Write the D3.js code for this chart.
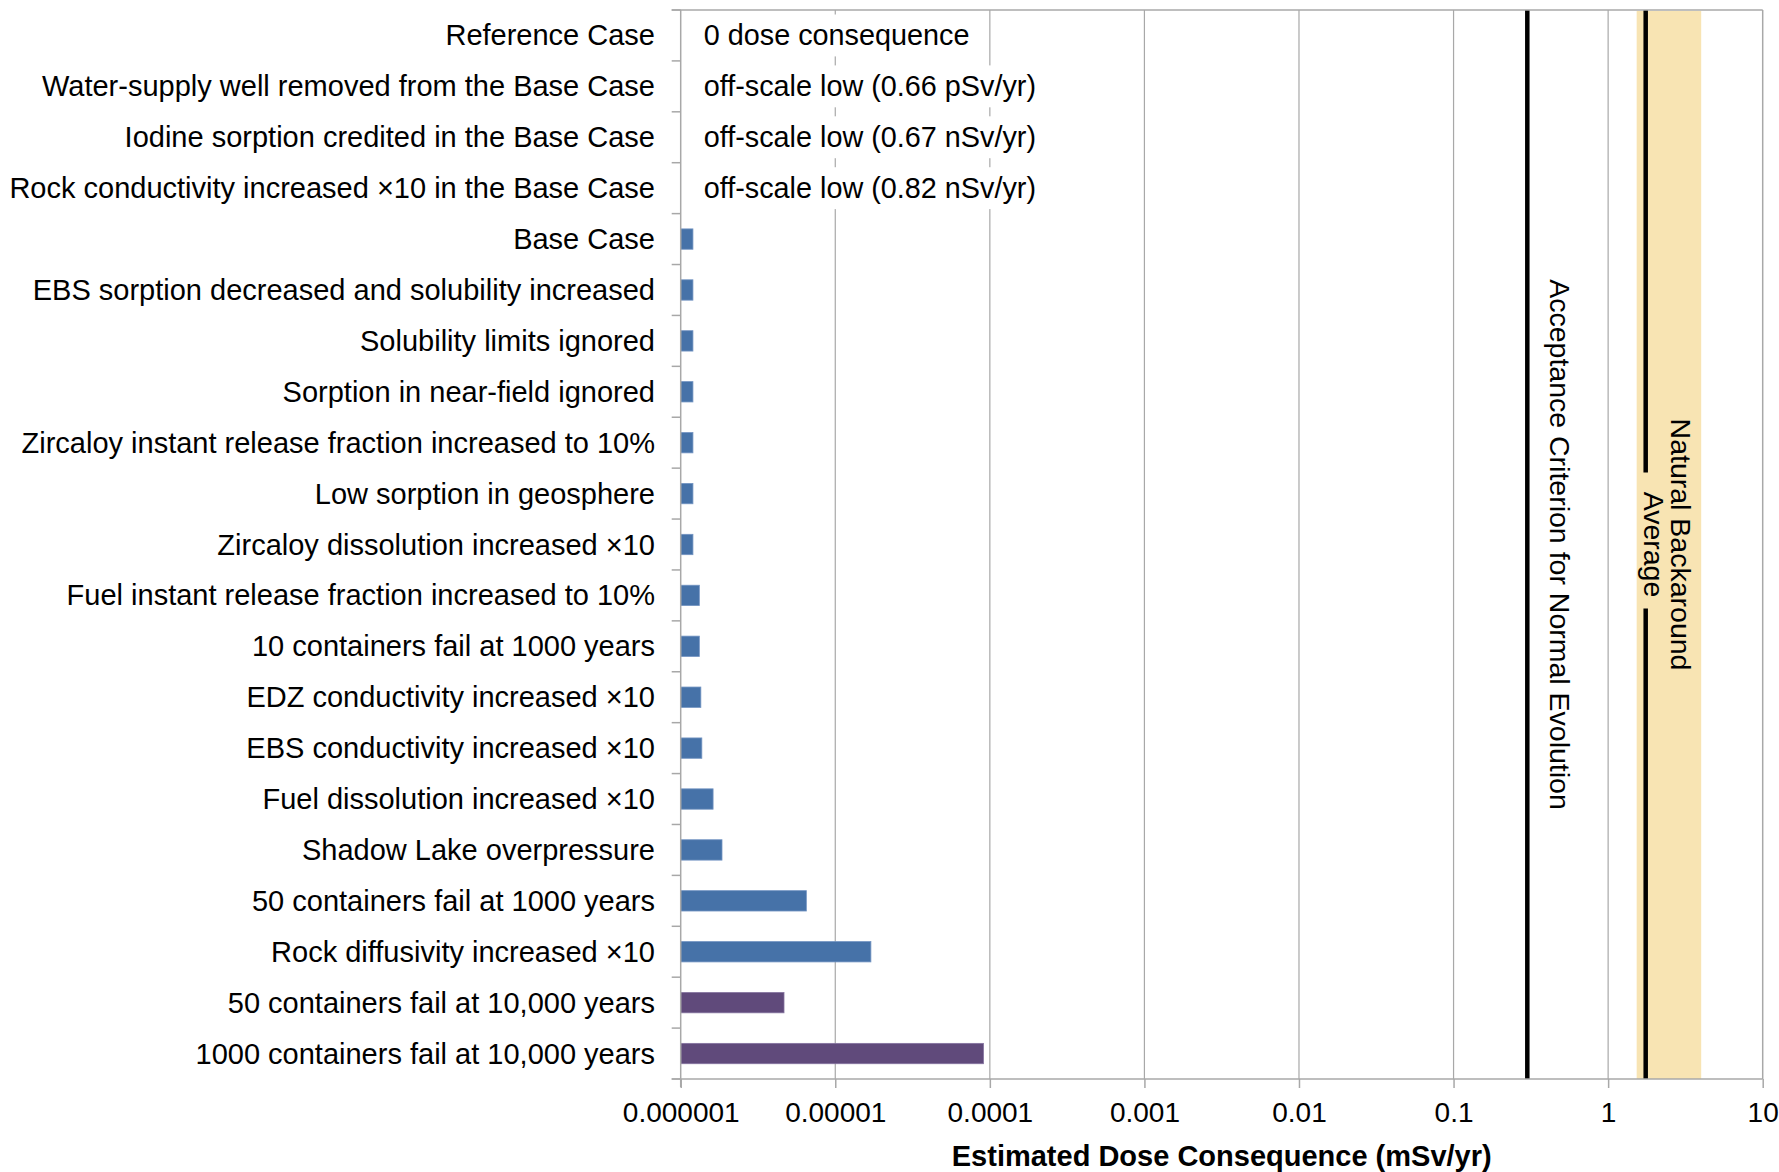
<!DOCTYPE html>
<html><head><meta charset="utf-8">
<script src="https://cdn.jsdelivr.net/npm/d3@7"></script>
<style>
body{margin:0;background:#fff}
svg{display:block}
text{font-family:"Liberation Sans",Arial,sans-serif;fill:#000}
</style>
</head><body>
<svg id="chart" width="1779" height="1172"></svg>
<script>
// ---------------- data ----------------
const categories = [
  "Reference Case",
  "Water-supply well removed from the Base Case",
  "Iodine sorption credited in the Base Case",
  "Rock conductivity increased \u00d710 in the Base Case",
  "Base Case",
  "EBS sorption decreased and solubility increased",
  "Solubility limits ignored",
  "Sorption in near-field ignored",
  "Zircaloy instant release fraction increased to 10%",
  "Low sorption in geosphere",
  "Zircaloy dissolution increased \u00d710",
  "Fuel instant release fraction increased to 10%",
  "10 containers fail at 1000 years",
  "EDZ conductivity increased \u00d710",
  "EBS conductivity increased \u00d710",
  "Fuel dissolution increased \u00d710",
  "Shadow Lake overpressure",
  "50 containers fail at 1000 years",
  "Rock diffusivity increased \u00d710",
  "50 containers fail at 10,000 years",
  "1000 containers fail at 10,000 years"
];
// estimated dose consequence, mSv/yr
const doseValues = [
  0, 6.6e-10, 6.7e-7, 8.2e-7,
  1.2e-6, 1.2e-6, 1.2e-6, 1.2e-6, 1.2e-6, 1.2e-6, 1.2e-6,
  1.32e-6, 1.32e-6, 1.35e-6, 1.37e-6, 1.62e-6, 1.85e-6,
  6.5e-6, 1.7e-5, 4.66e-6, 9.1e-5
];
// series index per category (0 = sensitivity cases, 1 = container failure at 10,000 years)
const seriesIndex = [0,0,0,0,0,0,0,0,0,0,0,0,0,0,0,0,0,0,0,1,1];
const seriesColors = ["#4672a8", "#604a7b"];
const seriesStroke = ["#7394c2", "#8574a0"];
// text notes for off-scale rows
const noteTexts = [
  "0 dose consequence",
  "off-scale low (0.66 pSv/yr)",
  "off-scale low (0.67 nSv/yr)",
  "off-scale low (0.82 nSv/yr)"
];
const tickValues = [1e-6, 1e-5, 1e-4, 1e-3, 1e-2, 1e-1, 1, 10];
const tickLabels = ["0.000001", "0.00001", "0.0001", "0.001", "0.01", "0.1", "1", "10"];
const acceptanceCriterion = 0.3;
const naturalBackgroundAverage = 1.75;
const naturalBackgroundRange = [1.53, 4.0];
const xTitle = "Estimated Dose Consequence (mSv/yr)";
const acceptanceLabel = "Acceptance Criterion for Normal Evolution";
const backgroundLabel = ["Natural Backaround", "Average"];

// ---------------- layout ----------------
const L = 680.7, R = 1762.7, T = 10, B = 1079;
const svg = d3.select("#chart");
const x = d3.scaleLog().domain([1e-6, 10]).range([L, R]);
const y = d3.scaleBand().domain(categories).range([T, B]).padding(0);
const step = y.step();
const barH = step * 0.4;
const gridColor = "#a8a8a8";

// gridlines
svg.append("g").selectAll("line").data(tickValues.slice(1, -1)).join("line")
  .attr("x1", d => x(d)).attr("x2", d => x(d))
  .attr("y1", T).attr("y2", B)
  .attr("stroke", gridColor).attr("stroke-width", 1.2);

// natural background band
svg.append("rect")
  .attr("x", x(naturalBackgroundRange[0])).attr("y", T + 1)
  .attr("width", x(naturalBackgroundRange[1]) - x(naturalBackgroundRange[0]))
  .attr("height", B - T - 1)
  .attr("fill", "#f8e4b3");

// bars
const barData = categories.map((c, i) => ({c, v: doseValues[i], s: seriesIndex[i]}))
  .filter(d => d.v >= x.domain()[0]);
svg.append("g").selectAll("rect").data(barData).join("rect")
  .attr("x", x(x.domain()[0]))
  .attr("y", d => y(d.c) + (step - barH) / 2)
  .attr("width", d => x(d.v) - x(x.domain()[0]))
  .attr("height", barH)
  .attr("fill", d => seriesColors[d.s])
  .attr("stroke", d => seriesStroke[d.s]).attr("stroke-width", 0.8);

// acceptance line
svg.append("line")
  .attr("x1", x(acceptanceCriterion)).attr("x2", x(acceptanceCriterion))
  .attr("y1", T).attr("y2", B)
  .attr("stroke", "#000").attr("stroke-width", 4.5);
// natural background average line
svg.append("line")
  .attr("x1", x(naturalBackgroundAverage)).attr("x2", x(naturalBackgroundAverage))
  .attr("y1", T).attr("y2", B)
  .attr("stroke", "#000").attr("stroke-width", 4.5);

// note boxes for off-scale rows
const notes = svg.append("g");
noteTexts.forEach((t, i) => {
  const g = notes.append("g");
  const rect = g.append("rect").attr("fill", "#fff");
  const txt = g.append("text")
    .attr("x", L + 23).attr("y", y(categories[i]) + step / 2 + 10)
    .attr("font-size", 28.8).style("white-space", "pre")
    .text(t);
  const bb = txt.node().getBBox();
  rect.attr("x", L + 1.5).attr("y", y(categories[i]) + 4.5)
    .attr("width", bb.x + bb.width + 18 - (L + 1.5)).attr("height", step - 9);
});

// axes: frame
const frame = svg.append("g").attr("stroke", gridColor).attr("stroke-width", 1.5).attr("fill", "none");
frame.append("line").attr("x1", L - 9).attr("x2", R).attr("y1", T).attr("y2", T);
frame.append("line").attr("x1", R).attr("x2", R).attr("y1", T).attr("y2", B);

// left axis
const yTicks = d3.range(categories.length + 1).map(i => T + i * step);
const leftAxis = svg.append("g").attr("stroke", gridColor).attr("stroke-width", 1.5);
leftAxis.append("line").attr("x1", L).attr("x2", L).attr("y1", T).attr("y2", B + 8);
leftAxis.selectAll("line.t").data(yTicks).join("line").attr("class", "t")
  .attr("x1", L - 9).attr("x2", L).attr("y1", d => d).attr("y2", d => d);

svg.append("g").selectAll("text").data(categories).join("text")
  .attr("x", 655).attr("y", d => y(d) + step / 2 + 10)
  .attr("text-anchor", "end").attr("font-size", 29)
  .text(d => d);

// bottom axis
const xAxis = d3.axisBottom(x).tickValues(tickValues)
  .tickFormat((d, i) => tickLabels[i]).tickSize(9).tickPadding(14);
const gx = svg.append("g").attr("transform", `translate(0,${B})`).call(xAxis);
gx.select(".domain").attr("stroke", gridColor).attr("stroke-width", 1.5).attr("d", `M${L - 9},0H${R}`);
gx.selectAll(".tick line").attr("stroke", gridColor).attr("stroke-width", 1.5);
gx.selectAll(".tick text").attr("font-size", 28).attr("font-family", "Liberation Sans, Arial, sans-serif")
  .attr("fill", "#000").attr("dy", "0.71em");

// axis title
svg.append("text").attr("x", (L + R) / 2).attr("y", 1166)
  .attr("text-anchor", "middle").attr("font-size", 29).attr("font-weight", "bold")
  .text(xTitle);

// acceptance label
const midY = (T + B) / 2;
svg.append("text")
  .attr("transform", `translate(${x(acceptanceCriterion) + 23},${midY}) rotate(90)`)
  .attr("text-anchor", "middle").attr("font-size", 28.5)
  .text(acceptanceLabel);

// natural background label with cover patch over line
const nbx = x(naturalBackgroundAverage);
svg.append("rect")
  .attr("x", nbx - 8).attr("y", midY - 72).attr("width", 16).attr("height", 136)
  .attr("fill", "#f8e4b3");
const nb = svg.append("text")
  .attr("transform", `translate(${nbx + 25},${midY}) rotate(90)`)
  .attr("text-anchor", "middle").attr("font-size", 28.5);
nb.append("tspan").attr("x", 0).attr("y", 0).text(backgroundLabel[0]);
nb.append("tspan").attr("x", 0).attr("y", 27).text(backgroundLabel[1]);
</script>
</body></html>
